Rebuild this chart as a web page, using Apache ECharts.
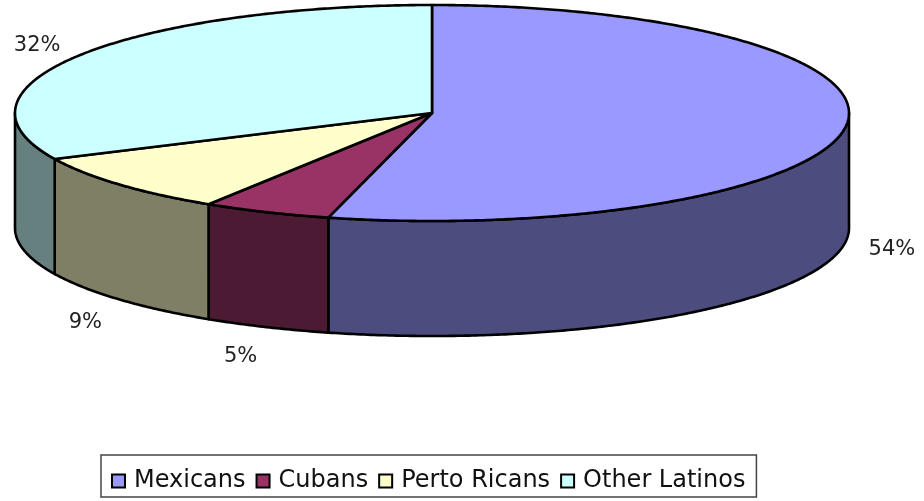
<!DOCTYPE html>
<html>
<head>
<meta charset="utf-8">
<style>
  html, body { margin: 0; padding: 0; background: #fff; }
  #chart { width: 924px; height: 501px; }
</style>
<script src="https://cdn.jsdelivr.net/npm/echarts@6/dist/echarts.min.js"></script>
</head>
<body>
<div id="chart"></div>
<script>
// Share of the Latino population by origin (percent)
const categories = ['Mexicans', 'Cubans', 'Perto Ricans', 'Other Latinos'];
const shares = [54, 5, 9, 32];
const labelTexts = ['54%', '5%', '9%', '32%'];

// Top-face and side-wall colours per slice
const topColors = ['#9999FF', '#993366', '#FFFFCC', '#CCFFFF'];
const sideColors = ['#4C4C7F', '#4C1A33', '#7F7F66', '#667F7F'];

// Tilted-disc geometry of the 3D pie
const pie = { cx: 432, cy: 113, rx: 417, ry: 108, depth: 115, labelDx: 23, labelDy: 27, labelShift: 5 };

const total = shares.reduce((s, v) => s + v, 0);
const startShares = shares.map((v, i) => shares.slice(0, i).reduce((s, x) => s + x, 0));

// Point on the rim at angle t (clockwise from 12 o'clock), dropped by dz
function rimPoint(t, dz) {
  return [pie.cx + pie.rx * Math.sin(t), pie.cy - pie.ry * Math.cos(t) + dz];
}

function arc(a0, a1, dz) {
  const pts = [];
  const n = Math.max(2, Math.ceil(Math.abs(a1 - a0) / (Math.PI / 360)));
  for (let k = 0; k <= n; k++) {
    pts.push(rimPoint(a0 + (a1 - a0) * k / n, dz));
  }
  return pts;
}

function renderSlice(i, api) {
  const value = api.value(0);
  const a0 = startShares[i] / total * Math.PI * 2;
  const a1 = a0 + value / total * Math.PI * 2;
  const children = [];
  const stroke = { stroke: '#000', lineWidth: 2.6, lineJoin: 'round' };

  // Front wall: only the part of the rim facing the viewer
  const lo = Math.max(a0, Math.PI / 2);
  const hi = Math.min(a1, Math.PI * 1.5);
  if (hi > lo) {
    const pts = arc(lo, hi, 0).concat(arc(hi, lo, pie.depth));
    children.push({
      type: 'polygon',
      shape: { points: pts },
      style: Object.assign({ fill: sideColors[i] }, stroke)
    });
  }

  // Top face
  const topPts = [[pie.cx, pie.cy]].concat(arc(a0, a1, 0));
  children.push({
    type: 'polygon',
    shape: { points: topPts },
    style: Object.assign({ fill: topColors[i] }, stroke)
  });

  // Percentage label outside the slice's mid angle
  const mid = (a0 + a1) / 2;
  const s = Math.sin(mid), c = Math.cos(mid);
  const lx = pie.cx + (pie.rx + pie.labelDx) * s;
  const ly = pie.cy + (c < 0 ? pie.depth : 0) - (pie.ry + pie.labelDy) * c + pie.labelShift;
  children.push({
    type: 'text',
    x: lx,
    y: ly,
    style: {
      text: labelTexts[i],
      fill: '#222',
      fontSize: 21,
      fontFamily: 'DejaVu Sans',
      align: s >= 0 ? 'left' : 'right',
      verticalAlign: 'middle'
    }
  });

  return { type: 'group', children: children };
}

const chart = echarts.init(document.getElementById('chart'), null, { renderer: 'canvas' });

chart.setOption({
  animation: false,
  backgroundColor: '#fff',
  legend: {
    data: categories,
    left: 101,
    top: 455,
    orient: 'horizontal',
    icon: 'rect',
    itemWidth: 13,
    itemHeight: 13,
    itemGap: 10,
    padding: [14, 11, 4, 10],
    borderColor: '#444',
    borderWidth: 1.5,
    itemStyle: { borderColor: '#000', borderWidth: 2 },
    textStyle: {
      fontFamily: 'DejaVu Sans',
      fontSize: 24,
      color: '#111',
      padding: [0, 0, 0, 4]
    },
    selectedMode: false
  },
  series: categories.map((name, i) => ({
    type: 'custom',
    name: name,
    coordinateSystem: 'none',
    itemStyle: { color: topColors[i] },
    data: [shares[i]],
    renderItem: (params, api) => renderSlice(i, api)
  }))
});
</script>
</body>
</html>
